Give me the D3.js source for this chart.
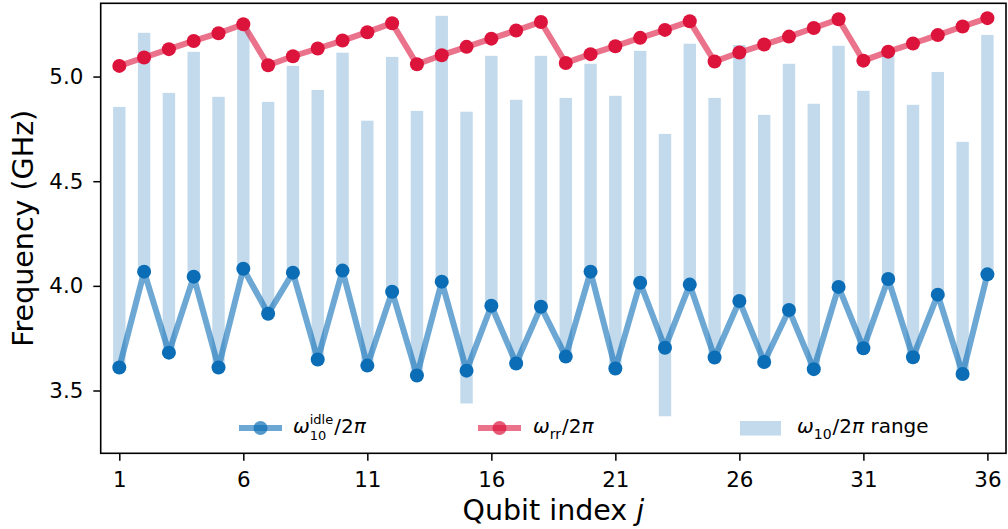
<!DOCTYPE html>
<html>
<head>
<meta charset="utf-8">
<script src="https://cdn.jsdelivr.net/npm/d3@7"></script>
<style>
  body { margin: 0; background: #fff; }
  text { font-family: 'DejaVu Sans', sans-serif; fill: #000; white-space: pre; }
</style>
</head>
<body>
<div id="chart"></div>
<script>
////// data //////
var qubits = d3.range(1, 37);
// readout resonator frequency
var rrFreq = [5.051, 5.091, 5.131, 5.170, 5.207, 5.250, 5.054, 5.097, 5.134, 5.172, 5.212, 5.255,
              5.059, 5.102, 5.142, 5.181, 5.220, 5.261, 5.065, 5.107, 5.145, 5.185, 5.223, 5.264,
              5.072, 5.115, 5.153, 5.191, 5.232, 5.274, 5.076, 5.119, 5.158, 5.198, 5.239, 5.279];
// idle frequency
var idleFreq = [3.610, 4.068, 3.681, 4.044, 3.610, 4.082, 3.867, 4.063, 3.648, 4.073, 3.619, 3.972,
                3.572, 4.020, 3.595, 3.905, 3.629, 3.900, 3.662, 4.068, 3.605, 4.015, 3.704, 4.006,
                3.658, 3.928, 3.636, 3.885, 3.602, 3.995, 3.702, 4.033, 3.659, 3.958, 3.579, 4.055];
// omega_10 range (top / bottom of bars)
var rangeTop = [4.855, 5.209, 4.922, 5.118, 4.903, 5.230, 4.879, 5.051, 4.936, 5.114, 4.789, 5.094,
                4.836, 5.290, 4.832, 5.099, 4.889, 5.099, 4.898, 5.061, 4.908, 5.123, 4.726, 5.157,
                4.898, 5.151, 4.817, 5.061, 4.870, 5.147, 4.932, 5.110, 4.865, 5.022, 4.688, 5.199];
var rangeBottom = [3.610, 4.068, 3.681, 4.044, 3.610, 4.082, 3.867, 4.063, 3.648, 4.073, 3.619, 3.972,
                   3.572, 4.020, 3.438, 3.905, 3.629, 3.900, 3.662, 4.068, 3.605, 4.015, 3.377, 4.006,
                   3.658, 3.928, 3.636, 3.885, 3.602, 3.995, 3.702, 4.033, 3.659, 3.958, 3.579, 4.055];
var xTicks = [1, 6, 11, 16, 21, 26, 31, 36];
var yTicks = [3.5, 4.0, 4.5, 5.0];

////// canvas //////
const width = 1008;
const height = 529;
const margin = {top: 3.3, right: 2, bottom: 75.7, left: 100.7};
const blue = '#0b6db5';
const red = '#dc143c';

var svg = d3.select('#chart')
  .append('svg')
    .attr('width', width)
    .attr('height', height);

var x = d3.scaleLinear()
  .domain([0.25, 36.75])
  .range([margin.left, width - margin.right]);
var y = d3.scaleLinear()
  .domain([3.2, 5.35])
  .range([height - margin.bottom, margin.top]);

// bars: omega_10 range
var barW = x(1.5) - x(1);
svg.selectAll('rect.bar')
  .data(qubits)
  .enter()
  .append('rect')
  .attr('class', 'bar')
  .attr('x', d => x(d) - barW / 2)
  .attr('width', barW)
  .attr('y', (d, i) => y(rangeTop[i]))
  .attr('height', (d, i) => y(rangeBottom[i]) - y(rangeTop[i]))
  .style('fill', blue)
  .style('opacity', 0.25);

// idle line + points
var line = d3.line().x(d => x(d[0])).y(d => y(d[1]));
svg.append('path')
  .datum(qubits.map((d, i) => [d, idleFreq[i]]))
  .attr('d', line)
  .style('fill', 'none')
  .style('stroke', blue)
  .style('stroke-width', 6)
  .style('stroke-opacity', 0.6)
  .style('stroke-linejoin', 'round');
svg.selectAll('circle.idle')
  .data(qubits)
  .enter()
  .append('circle')
  .attr('class', 'idle')
  .attr('cx', d => x(d))
  .attr('cy', (d, i) => y(idleFreq[i]))
  .attr('r', 7)
  .style('fill', blue);

// readout resonator line + points
svg.append('path')
  .datum(qubits.map((d, i) => [d, rrFreq[i]]))
  .attr('d', line)
  .style('fill', 'none')
  .style('stroke', red)
  .style('stroke-width', 6)
  .style('stroke-opacity', 0.6)
  .style('stroke-linejoin', 'round');
svg.selectAll('circle.rr')
  .data(qubits)
  .enter()
  .append('circle')
  .attr('class', 'rr')
  .attr('cx', d => x(d))
  .attr('cy', (d, i) => y(rrFreq[i]))
  .attr('r', 7)
  .style('fill', red);

////// axes //////
var xAxis = d3.axisBottom(x).tickValues(xTicks).tickSize(7.4).tickPadding(11.6).tickFormat(d3.format('d'));
var yAxis = d3.axisLeft(y).tickValues(yTicks).tickSize(7.4).tickPadding(10).tickFormat(d3.format('.1f'));
svg.append('g')
  .attr('transform', `translate(0, ${height - margin.bottom})`)
  .call(xAxis)
  .call(g => g.select('.domain').remove());
svg.append('g')
  .attr('transform', `translate(${margin.left}, 0)`)
  .call(yAxis)
  .call(g => g.select('.domain').remove());
svg.selectAll('.tick line').style('stroke', '#000').style('stroke-width', 1.5);
svg.selectAll('.tick text')
  .style('font-family', "'DejaVu Sans', sans-serif")
  .style('font-size', '21.4px')
  .style('fill', '#000');

// frame
svg.append('rect')
  .attr('x', margin.left)
  .attr('y', margin.top)
  .attr('width', width - margin.right - margin.left)
  .attr('height', height - margin.bottom - margin.top)
  .style('fill', 'none')
  .style('stroke', '#000')
  .style('stroke-width', 1.6);

// axis labels
var xLabel = svg.append('text')
  .attr('x', (margin.left + width - margin.right) / 2)
  .attr('y', 520)
  .style('text-anchor', 'middle')
  .style('font-size', '28.5px');
xLabel.append('tspan').text('Qubit index ');
xLabel.append('tspan').style('font-style', 'italic').text('j');

svg.append('text')
  .attr('transform', `translate(33, ${(margin.top + height - margin.bottom) / 2}) rotate(-90)`)
  .style('text-anchor', 'middle')
  .style('font-size', '28.5px')
  .text('Frequency (GHz)');

////// legend //////
// simple mathtext in one text element: pieces placed one after another
function mathText(x0, base, parts) {
  var text = svg.append('text').style('font-size', '20px');
  var cx = x0;
  parts.forEach(function(p) {
    if (p.stack) {
      // super and sub on the same x
      var sup = text.append('tspan').attr('x', cx).attr('y', base - 9)
        .style('font-size', '13px').text(p.stack[0]);
      var sub = text.append('tspan').attr('x', cx).attr('y', base + 7)
        .style('font-size', '13px').text(p.stack[1]);
      cx += Math.max(sup.node().getComputedTextLength(), sub.node().getComputedTextLength()) + 1;
    } else {
      var t = text.append('tspan')
        .attr('x', cx)
        .attr('y', base + (p.sub ? 5.5 : 0))
        .style('font-size', p.sub ? '14px' : '20px')
        .style('font-style', p.italic ? 'italic' : 'normal')
        .text(p.t);
      cx += t.node().getComputedTextLength() + (p.sub ? 1 : 0);
    }
  });
}

var legY = 428;
var legBase = 433;
// idle entry
svg.append('line').attr('x1', 239).attr('x2', 282).attr('y1', legY).attr('y2', legY)
  .style('stroke', blue).style('stroke-width', 6).style('stroke-opacity', 0.6);
svg.append('circle').attr('cx', 260.5).attr('cy', legY).attr('r', 7)
  .style('fill', blue).style('opacity', 0.7);
mathText(293, legBase, [{t: 'ω', italic: true}, {stack: ['idle', '10']}, {t: '/2'}, {t: 'π', italic: true}]);
// rr entry
svg.append('line').attr('x1', 478).attr('x2', 521).attr('y1', legY).attr('y2', legY)
  .style('stroke', red).style('stroke-width', 6).style('stroke-opacity', 0.6);
svg.append('circle').attr('cx', 499.5).attr('cy', legY).attr('r', 7)
  .style('fill', red).style('opacity', 0.7);
mathText(533, legBase, [{t: 'ω', italic: true}, {t: 'rr', sub: true}, {t: '/2'}, {t: 'π', italic: true}]);
// range entry
svg.append('rect').attr('x', 740).attr('y', 421).attr('width', 41).attr('height', 14.5)
  .style('fill', blue).style('opacity', 0.25);
mathText(797, legBase, [{t: 'ω', italic: true}, {t: '10', sub: true}, {t: '/2'}, {t: 'π', italic: true}, {t: ' range'}]);
</script>
</body>
</html>
